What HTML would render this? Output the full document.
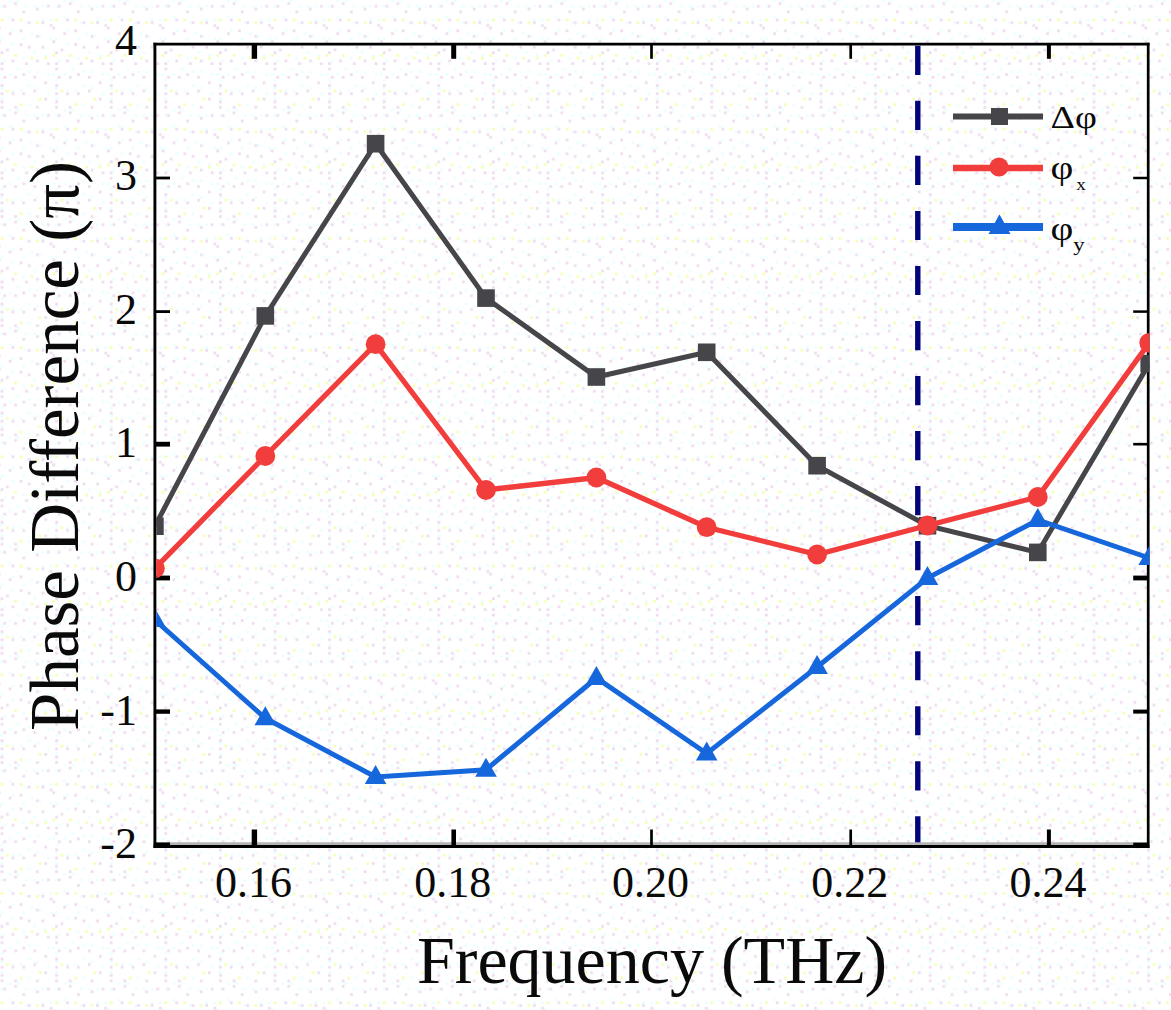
<!DOCTYPE html>
<html><head><meta charset="utf-8"><title>Phase difference vs frequency</title>
<style>
html,body{margin:0;padding:0;background:#fff;}
body{width:1171px;height:1010px;overflow:hidden;}
svg{display:block}
text{font-family:"Liberation Serif",serif;fill:#0a0a0a;}
</style></head><body>
<svg width="1171" height="1010" viewBox="0 0 1171 1010">
<defs>
<clipPath id="cp"><rect x="156.3" y="44.2" width="993.2" height="802.3"/></clipPath>
<pattern id="dz" x="0.6" y="-0.5" width="54.60" height="109.20" patternUnits="userSpaceOnUse"><rect x="8.19" y="0.00" width="2.73" height="2.73" fill="#eaffff"/><rect x="16.38" y="0.00" width="2.73" height="2.73" fill="#eaffff"/><rect x="13.65" y="2.73" width="2.73" height="2.73" fill="#eedcf0"/><rect x="0.00" y="5.46" width="2.73" height="2.73" fill="#eaffff"/><rect x="2.73" y="5.46" width="2.73" height="2.73" fill="#eedcf0"/><rect x="24.57" y="5.46" width="2.73" height="2.73" fill="#eaffff"/><rect x="32.76" y="5.46" width="2.73" height="2.73" fill="#eaffff"/><rect x="40.95" y="5.46" width="2.73" height="2.73" fill="#eaffff"/><rect x="46.41" y="5.46" width="2.73" height="2.73" fill="#eedcf0"/><rect x="35.49" y="8.19" width="2.73" height="2.73" fill="#eedcf0"/><rect x="21.84" y="10.92" width="2.73" height="2.73" fill="#eedcf0"/><rect x="8.19" y="16.38" width="2.73" height="2.73" fill="#eaffff"/><rect x="0.00" y="19.11" width="2.73" height="2.73" fill="#f4ffb4"/><rect x="10.92" y="19.11" width="2.73" height="2.73" fill="#eedcf0"/><rect x="19.11" y="19.11" width="2.73" height="2.73" fill="#f4ffb4"/><rect x="40.95" y="19.11" width="2.73" height="2.73" fill="#eaffff"/><rect x="49.14" y="19.11" width="2.73" height="2.73" fill="#eaffff"/><rect x="24.57" y="21.84" width="2.73" height="2.73" fill="#eaffff"/><rect x="27.30" y="21.84" width="2.73" height="2.73" fill="#eedcf0"/><rect x="35.49" y="21.84" width="2.73" height="2.73" fill="#f4ffb4"/><rect x="40.95" y="21.84" width="2.73" height="2.73" fill="#eedcf0"/><rect x="49.14" y="24.57" width="2.73" height="2.73" fill="#eedcf0"/><rect x="51.87" y="27.30" width="2.73" height="2.73" fill="#eedcf0"/><rect x="10.92" y="30.03" width="2.73" height="2.73" fill="#eaffff"/><rect x="19.11" y="30.03" width="2.73" height="2.73" fill="#eedcf0"/><rect x="8.19" y="32.76" width="2.73" height="2.73" fill="#eedcf0"/><rect x="30.03" y="32.76" width="2.73" height="2.73" fill="#eaffff"/><rect x="35.49" y="35.49" width="2.73" height="2.73" fill="#eedcf0"/><rect x="38.22" y="35.49" width="2.73" height="2.73" fill="#eaffff"/><rect x="0.00" y="38.22" width="2.73" height="2.73" fill="#eaffff"/><rect x="21.84" y="38.22" width="2.73" height="2.73" fill="#eaffff"/><rect x="49.14" y="38.22" width="2.73" height="2.73" fill="#eaffff"/><rect x="51.87" y="40.95" width="2.73" height="2.73" fill="#eedcf0"/><rect x="10.92" y="43.68" width="2.73" height="2.73" fill="#eaffff"/><rect x="19.11" y="43.68" width="2.73" height="2.73" fill="#eedcf0"/><rect x="27.30" y="46.41" width="2.73" height="2.73" fill="#eedcf0"/><rect x="40.95" y="46.41" width="2.73" height="2.73" fill="#eedcf0"/><rect x="5.46" y="49.14" width="2.73" height="2.73" fill="#eedcf0"/><rect x="32.76" y="51.87" width="2.73" height="2.73" fill="#eaffff"/><rect x="0.00" y="51.87" width="2.73" height="2.73" fill="#eedcf0"/><rect x="51.87" y="54.60" width="2.73" height="2.73" fill="#f4ffb4"/><rect x="13.65" y="54.60" width="2.73" height="2.73" fill="#f4ffb4"/><rect x="43.68" y="54.60" width="2.73" height="2.73" fill="#eaffff"/><rect x="21.84" y="57.33" width="2.73" height="2.73" fill="#eaffff"/><rect x="30.03" y="57.33" width="2.73" height="2.73" fill="#f4ffb4"/><rect x="43.68" y="57.33" width="2.73" height="2.73" fill="#f4ffb4"/><rect x="2.73" y="60.06" width="2.73" height="2.73" fill="#eaffff"/><rect x="10.92" y="60.06" width="2.73" height="2.73" fill="#eedcf0"/><rect x="35.49" y="60.06" width="2.73" height="2.73" fill="#eedcf0"/><rect x="0.00" y="62.79" width="2.73" height="2.73" fill="#eedcf0"/><rect x="24.57" y="62.79" width="2.73" height="2.73" fill="#eedcf0"/><rect x="46.41" y="62.79" width="2.73" height="2.73" fill="#eedcf0"/><rect x="16.38" y="68.25" width="2.73" height="2.73" fill="#eaffff"/><rect x="0.00" y="68.25" width="2.73" height="2.73" fill="#eedcf0"/><rect x="27.30" y="70.98" width="2.73" height="2.73" fill="#eaffff"/><rect x="35.49" y="70.98" width="2.73" height="2.73" fill="#eaffff"/><rect x="51.87" y="73.71" width="2.73" height="2.73" fill="#eaffff"/><rect x="8.19" y="73.71" width="2.73" height="2.73" fill="#eaffff"/><rect x="21.84" y="73.71" width="2.73" height="2.73" fill="#eedcf0"/><rect x="46.41" y="73.71" width="2.73" height="2.73" fill="#eaffff"/><rect x="2.73" y="76.44" width="2.73" height="2.73" fill="#eedcf0"/><rect x="13.65" y="76.44" width="2.73" height="2.73" fill="#eedcf0"/><rect x="32.76" y="76.44" width="2.73" height="2.73" fill="#eedcf0"/><rect x="0.00" y="79.17" width="2.73" height="2.73" fill="#eaffff"/><rect x="43.68" y="81.90" width="2.73" height="2.73" fill="#eedcf0"/><rect x="27.30" y="84.63" width="2.73" height="2.73" fill="#eaffff"/><rect x="0.00" y="84.63" width="2.73" height="2.73" fill="#eedcf0"/><rect x="0.00" y="87.36" width="2.73" height="2.73" fill="#eaffff"/><rect x="35.49" y="87.36" width="2.73" height="2.73" fill="#eaffff"/><rect x="5.46" y="90.09" width="2.73" height="2.73" fill="#f4ffb4"/><rect x="10.92" y="90.09" width="2.73" height="2.73" fill="#eaffff"/><rect x="19.11" y="90.09" width="2.73" height="2.73" fill="#eaffff"/><rect x="32.76" y="90.09" width="2.73" height="2.73" fill="#eedcf0"/><rect x="0.00" y="92.82" width="2.73" height="2.73" fill="#eedcf0"/><rect x="10.92" y="92.82" width="2.73" height="2.73" fill="#eedcf0"/><rect x="21.84" y="92.82" width="2.73" height="2.73" fill="#eedcf0"/><rect x="46.41" y="92.82" width="2.73" height="2.73" fill="#eaffff"/><rect x="38.22" y="98.28" width="2.73" height="2.73" fill="#f4ffb4"/><rect x="43.68" y="98.28" width="2.73" height="2.73" fill="#eedcf0"/><rect x="0.00" y="98.28" width="2.73" height="2.73" fill="#eaffff"/><rect x="0.00" y="101.01" width="2.73" height="2.73" fill="#eedcf0"/><rect x="19.11" y="103.74" width="2.73" height="2.73" fill="#f4ffb4"/><rect x="27.30" y="103.74" width="2.73" height="2.73" fill="#eaffff"/><rect x="0.00" y="106.47" width="2.73" height="2.73" fill="#eedcf0"/><rect x="13.65" y="106.47" width="2.73" height="2.73" fill="#eedcf0"/><rect x="35.49" y="106.47" width="2.73" height="2.73" fill="#eedcf0"/></pattern>
</defs>
<rect width="1171" height="1010" fill="#fff"/>
<rect width="1171" height="1010" fill="url(#dz)"/>

<line x1="917.8" y1="44.2" x2="917.8" y2="846.5" stroke="#04047a" stroke-width="5.4" stroke-dasharray="29.2 25.83" stroke-dashoffset="-1.6"/>
<line x1="153.5" y1="843.7" x2="1149.5" y2="843.7" stroke="#b4b4b4" stroke-width="2.8"/>
<line x1="154.9" y1="42.800000000000004" x2="154.9" y2="847.9" stroke="#000" stroke-width="2.9"/>
<line x1="1148.2" y1="42.800000000000004" x2="1148.2" y2="847.9" stroke="#000" stroke-width="2.7"/>
<line x1="153.5" y1="44.2" x2="1149.5" y2="44.2" stroke="#000" stroke-width="2.8"/>
<line x1="153.5" y1="846.5" x2="1149.5" y2="846.5" stroke="#000" stroke-width="2.8"/>
<line x1="254.4" y1="44.2" x2="254.4" y2="58.8" stroke="#000" stroke-width="5.4"/>
<line x1="254.4" y1="846.5" x2="254.4" y2="829.5" stroke="#000" stroke-width="5.4"/>
<text x="253.4" y="896.5" font-size="44" text-anchor="middle">0.16</text>
<line x1="453.7" y1="44.2" x2="453.7" y2="58.8" stroke="#000" stroke-width="5"/>
<line x1="453.7" y1="846.5" x2="453.7" y2="829.5" stroke="#000" stroke-width="4.6"/>
<text x="452.7" y="896.5" font-size="44" text-anchor="middle">0.18</text>
<line x1="651.5" y1="44.2" x2="651.5" y2="58.8" stroke="#000" stroke-width="2.7"/>
<line x1="651.5" y1="846.5" x2="651.5" y2="829.5" stroke="#000" stroke-width="2.7"/>
<text x="650.5" y="896.5" font-size="44" text-anchor="middle">0.20</text>
<line x1="850.7" y1="44.2" x2="850.7" y2="58.8" stroke="#000" stroke-width="2.7"/>
<line x1="850.7" y1="846.5" x2="850.7" y2="829.5" stroke="#000" stroke-width="2.7"/>
<text x="849.7" y="896.5" font-size="44" text-anchor="middle">0.22</text>
<line x1="1048.9" y1="44.2" x2="1048.9" y2="58.8" stroke="#000" stroke-width="4"/>
<line x1="1048.9" y1="846.5" x2="1048.9" y2="829.5" stroke="#000" stroke-width="4"/>
<text x="1047.9" y="896.5" font-size="44" text-anchor="middle">0.24</text>
<text x="137" y="55.2" font-size="44" text-anchor="end">4</text>
<line x1="154.9" y1="178.0" x2="170" y2="178.0" stroke="#000" stroke-width="2.8"/>
<line x1="1148.2" y1="178.0" x2="1133.2" y2="178.0" stroke="#000" stroke-width="2.5"/>
<text x="137" y="190.2" font-size="44" text-anchor="end">3</text>
<line x1="154.9" y1="311.6" x2="170" y2="311.6" stroke="#000" stroke-width="2.8"/>
<line x1="1148.2" y1="311.6" x2="1133.2" y2="311.6" stroke="#000" stroke-width="2.5"/>
<text x="137" y="323.8" font-size="44" text-anchor="end">2</text>
<line x1="154.9" y1="444.2" x2="170" y2="444.2" stroke="#000" stroke-width="4.8"/>
<line x1="1148.2" y1="444.2" x2="1133.2" y2="444.2" stroke="#000" stroke-width="2.6"/>
<text x="137" y="457.3" font-size="44" text-anchor="end">1</text>
<line x1="154.9" y1="578.0" x2="170" y2="578.0" stroke="#000" stroke-width="4.8"/>
<line x1="1148.2" y1="578.0" x2="1133.2" y2="578.0" stroke="#000" stroke-width="4.8"/>
<text x="137" y="590.9" font-size="44" text-anchor="end">0</text>
<line x1="154.9" y1="711.6" x2="170" y2="711.6" stroke="#000" stroke-width="4.4"/>
<line x1="1148.2" y1="711.6" x2="1133.2" y2="711.6" stroke="#000" stroke-width="4"/>
<text x="137" y="724.5" font-size="44" text-anchor="end">-1</text>
<line x1="154.9" y1="845" x2="170" y2="845" stroke="#000" stroke-width="5"/>
<line x1="1148.2" y1="845" x2="1133.2" y2="845" stroke="#000" stroke-width="4.7"/>
<text x="137" y="858.0" font-size="44" text-anchor="end">-2</text>
<g clip-path="url(#cp)">
<polyline points="154.9,526.2 265.3,315.9 375.6,143.7 486.0,298.1 596.4,377.0 706.7,352.3 817.1,465.7 927.5,525.7 1037.8,552.4 1149.2,363.6" fill="none" stroke="#45454a" stroke-width="5"/>
<rect x="146.1" y="517.4" width="17.6" height="17.6" fill="#45454a"/>
<rect x="256.5" y="307.1" width="17.6" height="17.6" fill="#45454a"/>
<rect x="366.8" y="134.9" width="17.6" height="17.6" fill="#45454a"/>
<rect x="477.2" y="289.3" width="17.6" height="17.6" fill="#45454a"/>
<rect x="587.6" y="368.2" width="17.6" height="17.6" fill="#45454a"/>
<rect x="697.9" y="343.5" width="17.6" height="17.6" fill="#45454a"/>
<rect x="808.3" y="456.9" width="17.6" height="17.6" fill="#45454a"/>
<rect x="918.7" y="516.9" width="17.6" height="17.6" fill="#45454a"/>
<rect x="1029.0" y="543.6" width="17.6" height="17.6" fill="#45454a"/>
<rect x="1140.4" y="354.8" width="17.6" height="17.6" fill="#45454a"/>
<polyline points="154.9,568.3 265.3,456.0 375.6,344.2 486.0,490.0 596.4,477.5 706.7,527.2 817.1,554.5 927.5,525.5 1037.8,497.0 1149.2,342.8" fill="none" stroke="#f23d3d" stroke-width="5.3"/>
<circle cx="154.9" cy="568.3" r="9.9" fill="#f23d3d"/>
<circle cx="265.3" cy="456.0" r="9.9" fill="#f23d3d"/>
<circle cx="375.6" cy="344.2" r="9.9" fill="#f23d3d"/>
<circle cx="486.0" cy="490.0" r="9.9" fill="#f23d3d"/>
<circle cx="596.4" cy="477.5" r="9.9" fill="#f23d3d"/>
<circle cx="706.7" cy="527.2" r="9.9" fill="#f23d3d"/>
<circle cx="817.1" cy="554.5" r="9.9" fill="#f23d3d"/>
<circle cx="927.5" cy="525.5" r="9.9" fill="#f23d3d"/>
<circle cx="1037.8" cy="497.0" r="9.9" fill="#f23d3d"/>
<circle cx="1149.2" cy="342.8" r="9.9" fill="#f23d3d"/>
<polyline points="154.9,620.0 265.3,718.3 375.6,777.0 486.0,769.7 596.4,678.0 706.7,753.5 817.1,667.0 927.5,578.0 1037.8,520.0 1149.2,558.0" fill="none" stroke="#1767dc" stroke-width="5"/>
<polygon points="154.9,608.0 144.1,627.0 165.7,627.0" fill="#1767dc"/>
<polygon points="265.3,706.3 254.5,725.3 276.1,725.3" fill="#1767dc"/>
<polygon points="375.6,765.0 364.8,784.0 386.4,784.0" fill="#1767dc"/>
<polygon points="486.0,757.7 475.2,776.7 496.8,776.7" fill="#1767dc"/>
<polygon points="596.4,666.0 585.6,685.0 607.2,685.0" fill="#1767dc"/>
<polygon points="706.7,741.5 695.9,760.5 717.5,760.5" fill="#1767dc"/>
<polygon points="817.1,655.0 806.3,674.0 827.9,674.0" fill="#1767dc"/>
<polygon points="927.5,566.0 916.7,585.0 938.3,585.0" fill="#1767dc"/>
<polygon points="1037.8,508.0 1027.0,527.0 1048.6,527.0" fill="#1767dc"/>
<polygon points="1149.2,546.0 1138.4,565.0 1160.0,565.0" fill="#1767dc"/>
</g>
<text x="652" y="982.5" font-size="68" text-anchor="middle">Frequency (THz)</text>
<text transform="translate(78,446) rotate(-90)" font-size="69" text-anchor="middle">Phase Difference (π)</text>
<line x1="953" y1="116.5" x2="1043" y2="116.5" stroke="#45454a" stroke-width="6"/><rect x="991" y="108" width="17" height="17" fill="#45454a"/>
<line x1="953" y1="168" x2="1043" y2="168" stroke="#f23d3d" stroke-width="6.5"/><circle cx="999" cy="167" r="9.6" fill="#f23d3d"/>
<line x1="953" y1="227" x2="1043" y2="227" stroke="#1767dc" stroke-width="7.8"/><polygon points="999.5,214.5 988.5,234 1010.5,234" fill="#1767dc"/>
<g transform="translate(1050.5,127.5) scale(1.17,1)"><text x="0" y="0" font-size="32.5">Δφ</text></g>
<g transform="translate(1050.5,179) scale(1.2,1)"><text x="0" y="0" font-size="33">φ<tspan font-size="16" dx="2.5" dy="11">x</tspan></text></g>
<g transform="translate(1050.5,239.5) scale(1.2,1)"><text x="0" y="0" font-size="33">φ<tspan font-size="19" dx="0" dy="11">y</tspan></text></g>
</svg></body></html>
